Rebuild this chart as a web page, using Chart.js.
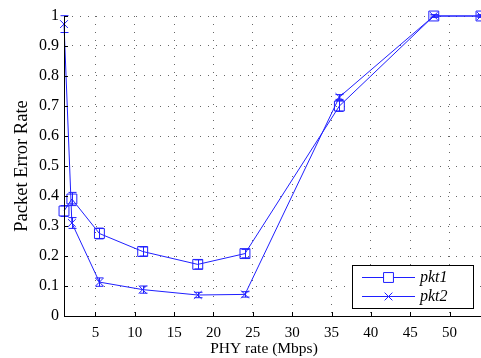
<!DOCTYPE html>
<html><head><meta charset="utf-8">
<script src="https://cdn.jsdelivr.net/npm/chart.js@4/dist/chart.umd.min.js"></script>
<style>html,body{margin:0;padding:0;background:#fff}#c{display:block}</style>
</head><body>
<canvas id="c" width="481" height="358"></canvas>
<script>
const rates = [1, 2, 5.5, 11, 18, 24, 36, 48, 54];
const pkt1 = [0.35, 0.39, 0.275, 0.215, 0.172, 0.208, 0.70, 1.0, 1.0];
const pkt1Err = [0.018, 0.022, 0.018, 0.015, 0.015, 0.014, 0.018, 0.004, 0.004];
const pkt2 = [0.973, 0.31, 0.113, 0.088, 0.070, 0.072, 0.73, 1.0, 1.0];
const pkt2Err = [0.028, 0.018, 0.014, 0.012, 0.009, 0.009, 0.008, 0.004, 0.004];
const xTicks = [5, 10, 15, 20, 25, 30, 35, 40, 45, 50];
const yTicks = [0, 0.1, 0.2, 0.3, 0.4, 0.5, 0.6, 0.7, 0.8, 0.9, 1];
const seriesNames = ['pkt1', 'pkt2'];
const xTitle = 'PHY rate (Mbps)';
const yTitle = 'Packet Error Rate';
const BLUE = '#1f1fff';
const SERIF = '"Liberation Serif", "Times New Roman", serif';

const errs = [pkt1Err, pkt2Err];

const errorBarPlugin = {
  id: 'errbars',
  afterDatasetsDraw(chart) {
    const ctx = chart.ctx, xs = chart.scales.x, ys = chart.scales.y;
    ctx.save();
    ctx.strokeStyle = BLUE; ctx.lineWidth = 1;
    chart.data.datasets.forEach((ds, i) => {
      ds.data.forEach((p, j) => {
        const e = errs[i][j];
        const x = Math.round(xs.getPixelForValue(p.x)) + 0.5;
        const y1 = ys.getPixelForValue(p.y + e);
        const y2 = ys.getPixelForValue(p.y - e);
        ctx.beginPath();
        ctx.moveTo(x, y1); ctx.lineTo(x, y2);
        ctx.moveTo(x - 4, y1); ctx.lineTo(x + 4, y1);
        ctx.moveTo(x - 4, y2); ctx.lineTo(x + 4, y2);
        ctx.stroke();
      });
    });
    ctx.restore();
  }
};

const axesPlugin = {
  id: 'matlabAxes',
  afterDraw(chart) {
    const ctx = chart.ctx, xs = chart.scales.x, ys = chart.scales.y, a = chart.chartArea;
    ctx.save();
    ctx.strokeStyle = '#000'; ctx.lineWidth = 1;
    ctx.beginPath();
    ctx.moveTo(a.left + 0.5, a.top); ctx.lineTo(a.left + 0.5, a.bottom + 0.5); ctx.lineTo(a.right, a.bottom + 0.5);
    xTicks.forEach(v => { const x = Math.round(xs.getPixelForValue(v)) + 0.5; ctx.moveTo(x, a.bottom); ctx.lineTo(x, a.bottom - 4); });
    yTicks.forEach(v => { const y = Math.round(ys.getPixelForValue(v)) + 0.5; ctx.moveTo(a.left, y); ctx.lineTo(a.left + 4, y); });
    ctx.stroke();
    // axis titles
    ctx.fillStyle = '#000';
    ctx.textAlign = 'center'; ctx.textBaseline = 'middle';
    ctx.font = '15.5px ' + SERIF;
    ctx.fillText(xTitle, 264, 349);
    ctx.save();
    ctx.translate(22, (a.top + a.bottom) / 2);
    ctx.rotate(-Math.PI / 2);
    ctx.font = '18.5px ' + SERIF;
    ctx.fillText(yTitle, 0, 0);
    ctx.restore();
    // legend
    const lx = 352, ly = 265, lw = 121, lh = 43;
    ctx.fillStyle = '#fff'; ctx.fillRect(lx, ly, lw, lh);
    ctx.strokeStyle = '#000';
    ctx.strokeRect(lx + 0.5, ly + 0.5, lw, lh);
    chart.data.datasets.forEach((ds, i) => {
      const y = ly + 12 + i * 19;
      ctx.strokeStyle = BLUE; ctx.lineWidth = 1; ctx.beginPath();
      ctx.moveTo(lx + 10, y + 0.5); ctx.lineTo(lx + 63, y + 0.5); ctx.stroke();
      Chart.helpers.drawPoint(ctx, { pointStyle: ds.pointStyle, radius: ds.pointRadius, borderWidth: 1 }, lx + 36.5, y + 0.5);
      ctx.fillStyle = '#000'; ctx.font = 'italic 16px ' + SERIF;
      ctx.textBaseline = 'middle'; ctx.textAlign = 'left';
      ctx.fillText(seriesNames[i], lx + 68, y + 1);
    });
    ctx.restore();
  }
};

const mk = (vals) => rates.map((r, i) => ({ x: r, y: vals[i] }));

new Chart(document.getElementById('c'), {
  type: 'line',
  data: { datasets: [
    { label: seriesNames[0], data: mk(pkt1), borderColor: BLUE, borderWidth: 1, pointStyle: 'rect', pointRadius: 7,
      pointBorderColor: BLUE, pointBackgroundColor: 'transparent', pointBorderWidth: 1, tension: 0, clip: false },
    { label: seriesNames[1], data: mk(pkt2), borderColor: BLUE, borderWidth: 1, pointStyle: 'crossRot', pointRadius: 5.5,
      pointBorderColor: BLUE, pointBackgroundColor: 'transparent', pointBorderWidth: 1, tension: 0, clip: false }
  ]},
  options: {
    responsive: false, animation: false, devicePixelRatio: 1,
    layout: { autoPadding: false, padding: { top: 16, right: -1, left: 0, bottom: 0 } },
    plugins: { legend: { display: false }, tooltip: { enabled: false } },
    scales: {
      x: { type: 'linear', min: 1, max: 54,
        afterBuildTicks: s => { s.ticks = xTicks.map(v => ({ value: v })); },
        afterFit: s => { s.height = 42; },
        grid: { color: '#666', lineWidth: 1, drawTicks: false },
        border: { display: false, dash: [1, 7] },
        ticks: { color: '#000', font: { family: SERIF, size: 15 }, padding: 8, maxRotation: 0 },
        title: { display: false }
      },
      y: { type: 'linear', min: 0, max: 1,
        afterBuildTicks: s => { s.ticks = yTicks.map(v => ({ value: v })); },
        afterFit: s => { s.width = 64; },
        grid: { color: '#666', lineWidth: 1, drawTicks: false },
        border: { display: false, dash: [1, 7] },
        ticks: { color: '#000', font: { family: SERIF, size: 16 }, padding: 5, callback: v => String(Math.round(v * 10) / 10) },
        title: { display: false }
      }
    }
  },
  plugins: [errorBarPlugin, axesPlugin]
});
</script>
</body></html>
